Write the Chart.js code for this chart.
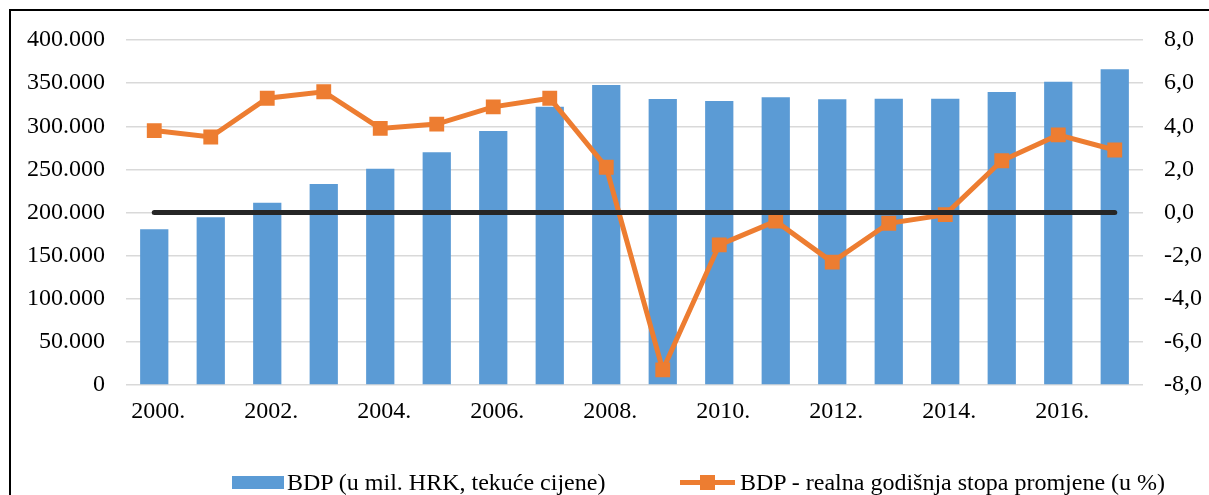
<!DOCTYPE html>
<html>
<head>
<meta charset="utf-8">
<script src="https://cdn.jsdelivr.net/npm/chart.js@4/dist/chart.umd.min.js"></script>
<style>
  html, body { margin: 0; padding: 0; background: #fff; }
  #wrap { position: relative; width: 1209px; height: 495px; overflow: hidden; background: #fff; }
  #frame { position: absolute; left: 9px; top: 9px; width: 1300px; height: 600px; border-left: 2px solid #000; border-top: 2px solid #000; box-sizing: border-box; }
  canvas { position: absolute; left: 0; top: 0; }
  .lg { position: absolute; font-family: 'Liberation Serif', 'Times New Roman', serif; font-size: 24px; color: #000; white-space: nowrap; line-height: 1; }
</style>
</head>
<body>
<div id="wrap">
  <div id="frame"></div>
  <canvas id="c" width="1209" height="495"></canvas>
  <div id="legend"></div>
</div>
<script>
const years = ['2000.', '2001.', '2002.', '2003.', '2004.', '2005.', '2006.', '2007.', '2008.', '2009.', '2010.', '2011.', '2012.', '2013.', '2014.', '2015.', '2016.', '2017.'];
const bdpLabel = 'BDP (u mil. HRK, tekuće cijene)';
const growthLabel = 'BDP - realna godišnja stopa promjene (u %)';
const bdp = [180500, 194400, 211400, 233000, 250800, 269800, 294500, 322700, 347800, 331600, 329300, 333600, 331200, 332000, 332000, 339700, 351700, 366000];
const growth = [3.8, 3.5, 5.3, 5.6, 3.9, 4.1, 4.9, 5.3, 2.1, -7.3, -1.5, -0.4, -2.3, -0.5, -0.1, 2.4, 3.6, 2.9];
const zeroLine = [0, 0, 0, 0, 0, 0, 0, 0, 0, 0, 0, 0, 0, 0, 0, 0, 0, 0];

const BLUE = '#5B9BD5';
const ORANGE = '#ED7D31';
const FONT = { family: "'Liberation Serif', 'Times New Roman', serif", size: 24 };

new Chart(document.getElementById('c'), {
  type: 'bar',
  data: {
    labels: years,
    datasets: [
      { type: 'line', label: 'zero', data: zeroLine, yAxisID: 'y1', borderColor: '#262626', borderWidth: 5, borderCapStyle: 'round', pointRadius: 0, order: 0 },
      { type: 'line', label: growthLabel, data: growth, yAxisID: 'y1', borderColor: ORANGE, borderWidth: 5, pointStyle: 'rect', pointRadius: 10.5, pointBackgroundColor: ORANGE, pointBorderWidth: 0, tension: 0, order: 1 },
      { type: 'bar', label: bdpLabel, data: bdp, yAxisID: 'y', backgroundColor: BLUE, borderWidth: 0, categoryPercentage: 1, barPercentage: 0.5, order: 2 }
    ]
  },
  options: {
    responsive: false,
    animation: false,
    events: [],
    layout: { padding: { left: 0, right: 0, top: 40, bottom: 0 } },
    plugins: { legend: { display: false }, tooltip: { enabled: false } },
    scales: {
      x: {
        grid: { display: false, drawTicks: false },
        border: { display: false },
        ticks: {
          autoSkip: false, maxRotation: 0, padding: 12, labelOffset: 4, color: '#000', font: FONT,
          callback: function (v, i) { return i % 2 === 0 ? years[i] : ''; }
        },
        afterFit: function (s) { s.height = 110; }
      },
      y: {
        position: 'left', min: 0, max: 400000,
        grid: { color: '#d9d9d9', lineWidth: 1.5, drawTicks: false },
        border: { display: false },
        ticks: {
          stepSize: 50000, padding: 21, color: '#000', font: FONT,
          callback: function (v) { return v === 0 ? '0' : v.toLocaleString('de-DE'); }
        },
        afterFit: function (s) { s.width = 126; }
      },
      y1: {
        position: 'right', min: -8, max: 8,
        grid: { display: false, drawTicks: false },
        border: { display: false },
        ticks: {
          stepSize: 2, padding: 21, color: '#000', font: FONT,
          callback: function (v) { return v.toFixed(1).replace('.', ','); }
        },
        afterFit: function (s) { s.width = 66; }
      }
    }
  }
});

// HTML legend
const lg = document.getElementById('legend');
lg.innerHTML =
  '<div style="position:absolute;left:232px;top:476px;width:52px;height:13px;background:' + BLUE + '"></div>' +
  '<div class="lg" style="left:287px;top:470px;">' + bdpLabel + '</div>' +
  '<div style="position:absolute;left:680px;top:480px;width:55px;height:5px;background:' + ORANGE + '"></div>' +
  '<div style="position:absolute;left:700px;top:475px;width:15px;height:15px;background:' + ORANGE + '"></div>' +
  '<div class="lg" style="left:740px;top:470px;">' + growthLabel + '</div>';
</script>
</body>
</html>
